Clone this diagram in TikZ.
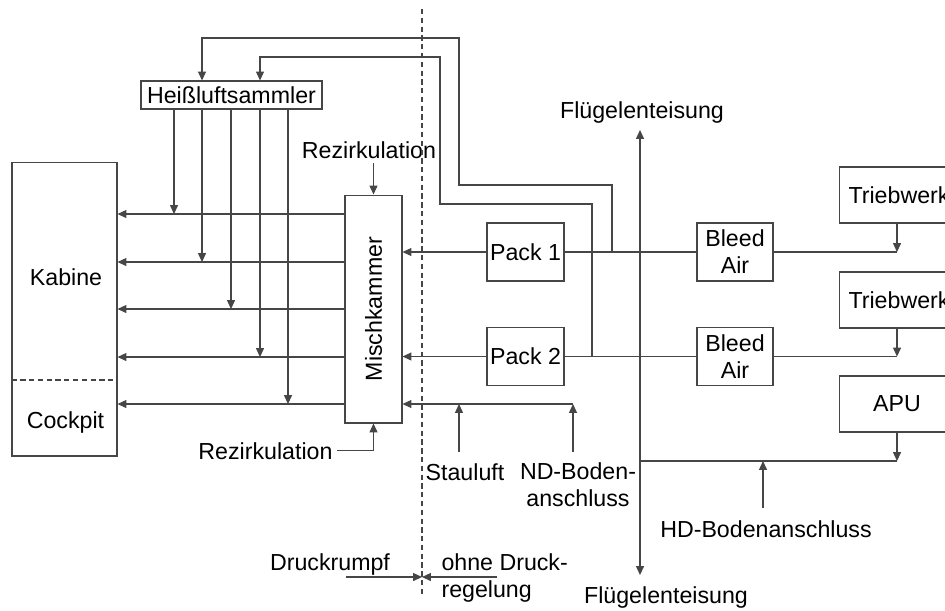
\documentclass[tikz,border=0pt]{standalone}
\usepackage{fontspec}
\setmainfont{Liberation Sans}
\usetikzlibrary{arrows.meta,calc,positioning}
\definecolor{linegray}{RGB}{70,70,70}

\tikzset{
  box/.style={draw=linegray, inner sep=0pt, align=center},
  lbl/.style={inner sep=0pt, anchor=base},
  arr/.style={-{Triangle[length=5pt,width=4.5pt]}},
  arrboth/.style={{Triangle[length=5pt,width=4.5pt]}-{Triangle[length=5pt,width=4.5pt]}},
}

\begin{document}
\begin{tikzpicture}[x=0.02cm, y=-0.02cm, line width=0.6pt, color=linegray,
  every node/.style={text=black, font=\fontsize{13.2}{15.3}\selectfont}]
\useasboundingbox (0,0) rectangle (945,610);
\clip (0,0) rectangle (945,610);
%--- Kabine / Cockpit ---
\node[box, minimum width=2.10cm, minimum height=5.88cm] (kab) at (64.5,309) {};
\node[lbl] (kabtxt) at (66,285) {Kabine};
\node[lbl] (cptxt) at (65.5,428) {Cockpit};
\draw[dashed, dash pattern=on 3pt off 2pt] (kab.west |- 0,380) -- (kab.east |- 0,380);
%--- Heissluftsammler und Mischkammer ---
\node[box, minimum width=3.62cm, minimum height=0.56cm] (hs) at (231.5,95) {Heißluftsammler};
\node[box, minimum width=1.14cm, minimum height=4.56cm] (mk) at (373.5,309) {};
\node[rotate=90] (mktxt) at (mk.center) {Mischkammer};
%--- Packs, Bleed Air, Triebwerke, APU ---
\node[box, minimum width=1.54cm, minimum height=1.16cm] (p1) at (525.5,252) {Pack 1};
\node[box, minimum width=1.54cm, minimum height=1.16cm] (p2) at (525.5,356.5) {Pack 2};
\node[box, minimum width=1.52cm, minimum height=1.16cm] (b1) at (735,252) {Bleed\\Air};
\node[box, minimum width=1.52cm, minimum height=1.16cm] (b2) at (735,356.5) {Bleed\\Air};
\node[box, anchor=west, inner xsep=0.18cm, minimum height=1.12cm] (tw1) at (839,195) {Triebwerk};
\node[box, anchor=west, inner xsep=0.18cm, minimum height=1.12cm] (tw2) at (839,300) {Triebwerk};
\node[box, minimum width=2.32cm, minimum height=1.12cm] (apu) at (897,404) {APU};
%--- Beschriftungen ---
\node[lbl] (rzo) at (369,158) {Rezirkulation};
\node[lbl] (rzu) at (265.5,459) {Rezirkulation};
\node[lbl] (feo) at (642,118) {Flügelenteisung};
\node[lbl] (feu) at (666,603) {Flügelenteisung};
\node[lbl] (stau) at (465,480) {Stauluft};
\node[inner sep=0pt, align=center] (nd) at (578,485) {ND-Boden-\\anschluss};
\node[lbl] (hd) at (766,537) {HD-Bodenanschluss};
\node[lbl] (drumpf) at (330,570) {Druckrumpf};
\node[inner sep=0pt, anchor=west, align=left] (odr) at (441,578) {ohne Druck-\\regelung};
%--- Druckgrenze ---
\coordinate (d1) at (422,9);
\coordinate (d2) at (422,597);
\draw[dashed, dash pattern=on 3pt off 2pt] (d1) -- (d2);
%--- Mischkammer -> Kabine ---
\draw[arr] (mk.west |- 0,214) -- (kab.east |- 0,214);
\draw[arr] (mk.west |- 0,262) -- (kab.east |- 0,262);
\draw[arr] (mk.west |- 0,309) -- (kab.east |- 0,309);
\draw[arr] (mk.west |- 0,357) -- (kab.east |- 0,357);
\draw[arr] (mk.west |- 0,404) -- (kab.east |- 0,404);
% Heissluft -> Zuleitungen
\draw[arr] (hs.south -| 174,0) -- (174,214);
\draw[arr] (hs.south -| 202,0) -- (202,262);
\draw[arr] (hs.south -| 231,0) -- (231,309);
\draw[arr] (hs.south -| 260,0) -- (260,357);
\draw[arr] (hs.south -| 288,0) -- (288,404);
% Rezirkulation
\draw[arr] (rzo.south -| mk.north) ++(0,4) -- (mk.north);
\draw[arr] (rzu.east) ++(4,0) -| (mk.south);
%--- Packs -> Mischkammer ---
\draw[arr] (p1.west) -- (p1.west -| mk.east);
\draw[arr] (p2.west) -- (p2.west -| mk.east);
\draw (p1.east) -- (b1.west);
\draw (p2.east) -- (b2.west);
% Triebwerke -> Bleed Air
\coordinate (e1) at (897,252);
\coordinate (e2) at (897,356.5);
\draw (b1.east) -- (e1);
\draw (b2.east) -- (e2);
\draw[arr] (tw1.south -| e1) -- (e1);
\draw[arr] (tw2.south -| e2) -- (e2);
% Heissluft-Ringleitungen
\coordinate (j1) at (612,252);
\coordinate (j2) at (592,356.5);
\draw[arr] (j1) |- (459,185) |- (202,38) -- (hs.north -| 202,0);
\draw[arr] (j2) |- (440,204) |- (260,57) -- (hs.north -| 260,0);
%--- Fluegelenteisung ---
\coordinate (fo) at (640,130);
\coordinate (fu) at (640,575);
\draw[arrboth] (fo) -- (fu);
% APU und HD-Bodenanschluss
\coordinate (e3) at (897,461);
\coordinate (hdp) at (763,508);
\draw[arr] (apu.south) -- (e3);
\draw (e3) -- (e3 -| fo);
\draw[arr] (hdp) -- (hdp |- e3);
%--- Stauluft, ND-Bodenanschluss ---
\coordinate (nd1) at (573,404);
\coordinate (nd0) at (573,452);
\coordinate (st0) at (459,452);
\draw[arr] (nd1) -- (nd1 -| mk.east);
\draw[arr] (nd0) -- (nd1);
\draw[arr] (st0) -- (st0 |- nd1);
%--- Druckrumpf / ohne Druckregelung ---
\coordinate (dl) at (346,577);
\coordinate (dm) at (422,577);
\coordinate (dr) at (497,577);
\draw[arr] (dl) -- (dm);
\draw[arr] (dr) -- (dm);
\end{tikzpicture}
\end{document}
